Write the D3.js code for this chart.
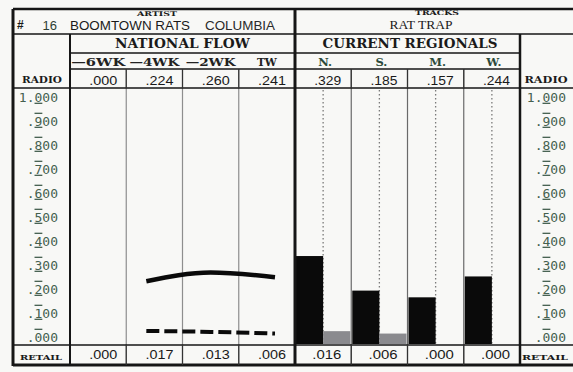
<!DOCTYPE html>
<html><head><meta charset="utf-8">
<script src="https://cdn.jsdelivr.net/npm/d3@7"></script>
<style>
html,body{margin:0;padding:0;background:#f8f8f6;}
svg{display:block;}
</style></head>
<body>
<script>
// ---- data ----
const weeks = ["-6WK", "-4WK", "-2WK", "TW"];
const weekLabels = ["\u20146WK", "\u20144WK", "\u20142WK", "TW"];
const radioFlow = [0.000, 0.224, 0.260, 0.241];
const retailFlow = [0.000, 0.017, 0.013, 0.006];
const regions = ["N.", "S.", "M.", "W."];
const radioRegional = [0.329, 0.185, 0.157, 0.244];
const retailRegional = [0.016, 0.006, 0.000, 0.000];
const yTicks = [0, 0.1, 0.2, 0.3, 0.4, 0.5, 0.6, 0.7, 0.8, 0.9, 1.0];
const yTickLabels = [".000", ".100", ".200", ".300", ".400", ".500", ".600", ".700", ".800", ".900", "1.000"];
const rank = "16";
const artist = "BOOMTOWN RATS";
const label = "COLUMBIA";
const track = "RAT TRAP";

const W = 573, H = 372;
const svg = d3.select("body").append("svg").attr("width", W).attr("height", H);
svg.append("rect").attr("width", W).attr("height", H).attr("fill", "#f8f8f6");

const fmt = v => d3.format(".3f")(v).replace(/^0/, "");

// layout
const L = 13, R = 573, TOP = 9, ROW1 = 34, ROW2 = 53, ROW3 = 69, ROW4 = 88, PBOT = 344, BOT = 365;
const xWeek = d3.scaleBand().domain(weeks).range([70, 295]);
const xReg = d3.scaleBand().domain(regions).range([295, 520]);
const xLine = d3.scalePoint().domain(weeks).range([82, 275]);
const y = d3.scaleLinear().domain([0, 1]).range([335, 95]);
const bwW = xWeek.bandwidth(), bwR = xReg.bandwidth();

const ink = "#161616";

// thin column lines inside plot
weeks.slice(1).forEach(w => {
  svg.append("line").attr("x1", xWeek(w)).attr("x2", xWeek(w)).attr("y1", ROW3).attr("y2", BOT)
    .attr("stroke", "#8e8e8e").attr("stroke-width", 1.2);
});
regions.slice(1).forEach(r => {
  svg.append("line").attr("x1", xReg(r)).attr("x2", xReg(r)).attr("y1", ROW3).attr("y2", BOT)
    .attr("stroke", "#6a6a6a").attr("stroke-width", 1.2);
});
// dotted guides in regionals
regions.forEach(r => {
  svg.append("line").attr("x1", xReg(r) + bwR / 2).attr("x2", xReg(r) + bwR / 2)
    .attr("y1", ROW4 + 2).attr("y2", PBOT)
    .attr("stroke", "#7a7a7a").attr("stroke-width", 1.3).attr("stroke-dasharray", "1.5,2.5");
});

// regional bars
svg.append("g").selectAll("rect.radio").data(regions).join("rect")
  .attr("x", r => xReg(r) + 1)
  .attr("width", bwR / 2 - 1)
  .attr("y", (r, i) => y(radioRegional[i]))
  .attr("height", (r, i) => PBOT - y(radioRegional[i]))
  .attr("fill", "#0a0a0a");
svg.append("g").selectAll("rect.retail").data(regions.filter((r, i) => retailRegional[i] > 0)).join("rect")
  .attr("x", r => xReg(r) + bwR / 2)
  .attr("width", bwR / 2 - 1)
  .attr("y", r => y(retailRegional[regions.indexOf(r)]))
  .attr("height", r => PBOT - y(retailRegional[regions.indexOf(r)]))
  .attr("fill", "#8a8a8e");

// national flow lines
const lineGen = d3.line()
  .defined(d => d.v > 0)
  .x(d => xLine(d.w)).y(d => y(d.v))
  .curve(d3.curveMonotoneX);
svg.append("path").datum(weeks.map((w, i) => ({ w, v: radioFlow[i] })))
  .attr("d", lineGen).attr("fill", "none").attr("stroke", "#0a0a0a").attr("stroke-width", 4.5);
svg.append("path").datum(weeks.map((w, i) => ({ w, v: retailFlow[i] })))
  .attr("d", lineGen).attr("fill", "none").attr("stroke", "#0a0a0a").attr("stroke-width", 4)
  .attr("stroke-dasharray", "13,5");

// structural lines
function hline(x1, x2, yy, w) {
  svg.append("line").attr("x1", x1).attr("x2", x2).attr("y1", yy).attr("y2", yy).attr("stroke", ink).attr("stroke-width", w);
}
function vline(xx, y1, y2, w, c) {
  svg.append("line").attr("x1", xx).attr("x2", xx).attr("y1", y1).attr("y2", y2).attr("stroke", c || ink).attr("stroke-width", w);
}
hline(L, R, TOP, 2.5);
hline(L, R, ROW1, 1.5);
hline(70, 520, ROW2, 1.3);
hline(70, 520, ROW3, 1.3);
hline(L, R, ROW4, 1.5);
hline(L, R, PBOT + 1, 1.5);
hline(L, R, BOT, 3);
vline(L, TOP, BOT + 1, 3);
vline(70, ROW1, BOT, 2);
vline(295, TOP, BOT, 3);
vline(520, ROW1, BOT, 2.5);
// header cell dividers
weeks.slice(1).forEach(w => vline(xWeek(w), ROW3, ROW4, 1.2, "#333"));
regions.slice(1).forEach(r => vline(xReg(r), ROW3, ROW4, 1.2, "#333"));
weeks.slice(1).forEach(w => vline(xWeek(w), PBOT, BOT, 1.2, "#333"));
regions.slice(1).forEach(r => vline(xReg(r), PBOT, BOT, 1.2, "#333"));

// axes
const tickCol = "#45604f";
function makeAxis(x) {
  const g = svg.append("g").attr("transform", `translate(${x},2)`)
    .call(d3.axisLeft(y).tickValues(yTicks).tickSize(0).tickPadding(0)
      .tickFormat((d, i) => yTickLabels[i]));
  g.select(".domain").remove();
  g.selectAll(".tick text").each(function () {
    const s = d3.select(this).text();
    const t = d3.select(this).text(null)
      .attr("font-family", "'DejaVu Sans Mono', monospace").attr("font-size", 13)
      .attr("fill", tickCol);
    const k = s.indexOf(".") + 1;
    t.append("tspan").text(s.slice(0, k));
    t.append("tspan").style("text-decoration", s === "1.000" ? "underline" : (s === ".000" ? "overline" : "underline overline")).text(s[k]);
    t.append("tspan").text(s.slice(k + 1));
  });
}
makeAxis(58);
makeAxis(566);

// text helpers
function txt(x, yy, s, o) {
  const t = svg.append("text").attr("x", x).attr("y", yy).text(s)
    .attr("font-family", o.ff || "'Liberation Sans', Arial, sans-serif")
    .attr("font-size", o.fs || 12)
    .attr("font-weight", o.fw || "normal")
    .attr("fill", o.fill || "#1a1a1a")
    .attr("text-anchor", o.anchor || "start");
  if (o.len) t.attr("textLength", o.len).attr("lengthAdjust", "spacingAndGlyphs");
  return t;
}
const serif = "'DejaVu Serif', serif";

// header row
txt(17, 29, "#", { fs: 12, fw: "bold" });
txt(57, 30, rank, { fs: 13, anchor: "end", fill: "#2e3f33" });
txt(70, 30, artist, { fs: 13, len: 120 });
txt(205, 30, label, { fs: 13, len: 70, fill: "#2a2a2a" });
txt(157, 16, "ARTIST", { ff: serif, fs: 6.5, fw: "bold", anchor: "middle", len: 40 });
txt(437, 15, "TRACKS", { ff: serif, fs: 6.5, fw: "bold", anchor: "middle", len: 44 });
txt(421, 29, track, { ff: "'Liberation Serif', serif", fs: 12.5, anchor: "middle", len: 63 });

txt(182.5, 48, "NATIONAL FLOW", { ff: serif, fs: 12.5, fw: "bold", anchor: "middle", len: 135 });
txt(410, 48, "CURRENT REGIONALS", { ff: serif, fs: 12.5, fw: "bold", anchor: "middle", len: 175 });

const hdrLen = [54, 50, 50, 20];
weeks.forEach((w, i) => txt(xWeek(w) + bwW / 2, 66, weekLabels[i], { ff: serif, fs: 11.5, fw: "bold", anchor: "middle", len: hdrLen[i], fill: "#222" }));
regions.forEach((r, i) => txt(xReg(r) + bwR / 2 + 2, 66, r, { ff: serif, fs: 11.5, fw: "bold", anchor: "middle", fill: "#2c4a3a" }));

// radio / retail labels
txt(42, 83, "RADIO", { ff: serif, fs: 9, fw: "bold", anchor: "middle", len: 40 });
txt(546, 83, "RADIO", { ff: serif, fs: 9, fw: "bold", anchor: "middle", len: 43 });
txt(41, 360, "RETAIL", { ff: serif, fs: 8, fw: "bold", anchor: "middle", len: 42 });
txt(545, 360, "RETAIL", { ff: serif, fs: 8, fw: "bold", anchor: "middle", len: 46 });

// values
weeks.forEach((w, i) => {
  txt(xWeek(w) + bwW - 9, 85, fmt(radioFlow[i]), { fs: 12.5, anchor: "end", len: 28 });
  txt(xWeek(w) + bwW - 9, 359, fmt(retailFlow[i]), { fs: 12.5, anchor: "end", len: 28 });
});
regions.forEach((r, i) => {
  txt(xReg(r) + bwR - 10, 85, fmt(radioRegional[i]), { fs: 12.5, anchor: "end", len: 27 });
  txt(xReg(r) + bwR - 10, 359, fmt(retailRegional[i]), { fs: 12.5, anchor: "end", len: 29 });
});
</script>
</body></html>
